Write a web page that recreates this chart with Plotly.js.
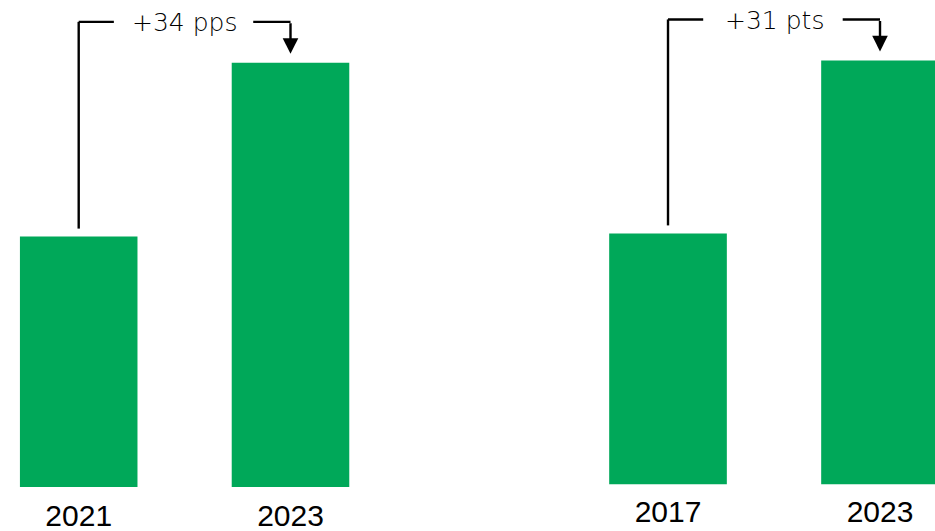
<!DOCTYPE html>
<html>
<head>
<meta charset="utf-8">
<script src="https://cdn.plot.ly/plotly-3.0.1.min.js"></script>
<style>
  html, body { margin: 0; padding: 0; background: #ffffff; }
  #chart { width: 935px; height: 531px; }
</style>
</head>
<body>
<div id="chart"></div>
<script>
// ---- data ----
var leftYears = ["2021", "2023"];
var leftValues = [49, 83];
var leftDeltaLabel = "+34 pps";

var rightYears = ["2017", "2023"];
var rightValues = [45, 76];
var rightDeltaLabel = "+31 pts";

// ---- style / layout constants ----
var GREEN = "#00A859";
var INK = "#000000";
var W = 935, H = 531;

var panels = [
  { years: leftYears, values: leftValues, label: leftDeltaLabel,
    xa: "x", ya: "y", xDomain: [0, 0.45], xRange: [-0.3716, 1.615],
    baselinePx: 487, yTop: 95.3, standoff: 8 },
  { years: rightYears, values: rightValues, label: rightDeltaLabel,
    xa: "x2", ya: "y2", xDomain: [0.5, 1], xRange: [-0.9458, 1.2594],
    baselinePx: 484.5, yTop: 86.83, standoff: 6 }
];

var traces = [];
var shapes = [];
var annotations = [];
var layout = {
  width: W, height: H,
  margin: { l: 0, r: 0, t: 0, b: 0, pad: 0 },
  paper_bgcolor: "#ffffff",
  plot_bgcolor: "#ffffff",
  showlegend: false,
  bargap: 0.445,
  font: { family: "Liberation Sans, Arial, sans-serif", color: INK }
};

panels.forEach(function (p, i) {
  traces.push({
    type: "bar",
    x: p.years,
    y: p.values,
    xaxis: p.xa,
    yaxis: p.ya,
    marker: { color: GREEN, line: { width: 0 } },
    hoverinfo: "x+y"
  });

  var xKey = i === 0 ? "xaxis" : "xaxis2";
  var yKey = i === 0 ? "yaxis" : "yaxis2";
  layout[xKey] = {
    domain: p.xDomain,
    anchor: p.ya,
    type: "category",
    range: p.xRange,
    showgrid: false, zeroline: false, showline: false,
    ticks: "",
    ticklabelstandoff: p.standoff,
    tickfont: { family: "Liberation Sans, Arial, sans-serif", size: 30, color: INK },
    fixedrange: true
  };
  layout[yKey] = {
    domain: [(H - p.baselinePx) / H, 1],
    anchor: p.xa,
    range: [0, p.yTop],
    showgrid: false, zeroline: false, showline: false,
    showticklabels: false, ticks: "",
    fixedrange: true
  };

  // pixel -> data conversion for this panel's y axis
  var pxPerUnit = p.baselinePx / p.yTop;
  function up(px) { return px / pxPerUnit; }

  var vStart = p.values[0], vEnd = p.values[1];
  var topY = Math.max(vStart, vEnd) + up(41);
  var lineStyle = { color: INK, width: 2.4 };

  // vertical riser from first bar
  shapes.push({ type: "line", xref: p.xa, yref: p.ya,
    x0: 0, x1: 0, y0: vStart + up(8), y1: topY, line: lineStyle });
  // left horizontal segment
  shapes.push({ type: "line", xref: p.xa, yref: p.ya,
    x0: 0, x1: 0.166, y0: topY, y1: topY, line: lineStyle });
  // right horizontal segment
  shapes.push({ type: "line", xref: p.xa, yref: p.ya,
    x0: 0.824, x1: 1, y0: topY, y1: topY, line: lineStyle });

  // down arrow onto second bar
  annotations.push({
    xref: p.xa, yref: p.ya, axref: p.xa, ayref: p.ya,
    x: 1, y: vEnd + up(9), ax: 1, ay: topY,
    text: "", showarrow: true,
    arrowhead: 2, arrowsize: 1.3, arrowwidth: 2.4, arrowcolor: INK,
    standoff: 0, startstandoff: 0
  });

  // delta label
  annotations.push({
    xref: p.xa, yref: p.ya,
    x: 0.5, y: topY,
    text: p.label, showarrow: false,
    xanchor: "center", yanchor: "middle",
    yshift: -1,
    font: { family: "DejaVu Sans, Liberation Sans, sans-serif", size: 25, color: INK, weight: 300 }
  });
});

layout.shapes = shapes;
layout.annotations = annotations;

Plotly.newPlot("chart", traces, layout, { displayModeBar: false, staticPlot: true });
</script>
</body>
</html>
